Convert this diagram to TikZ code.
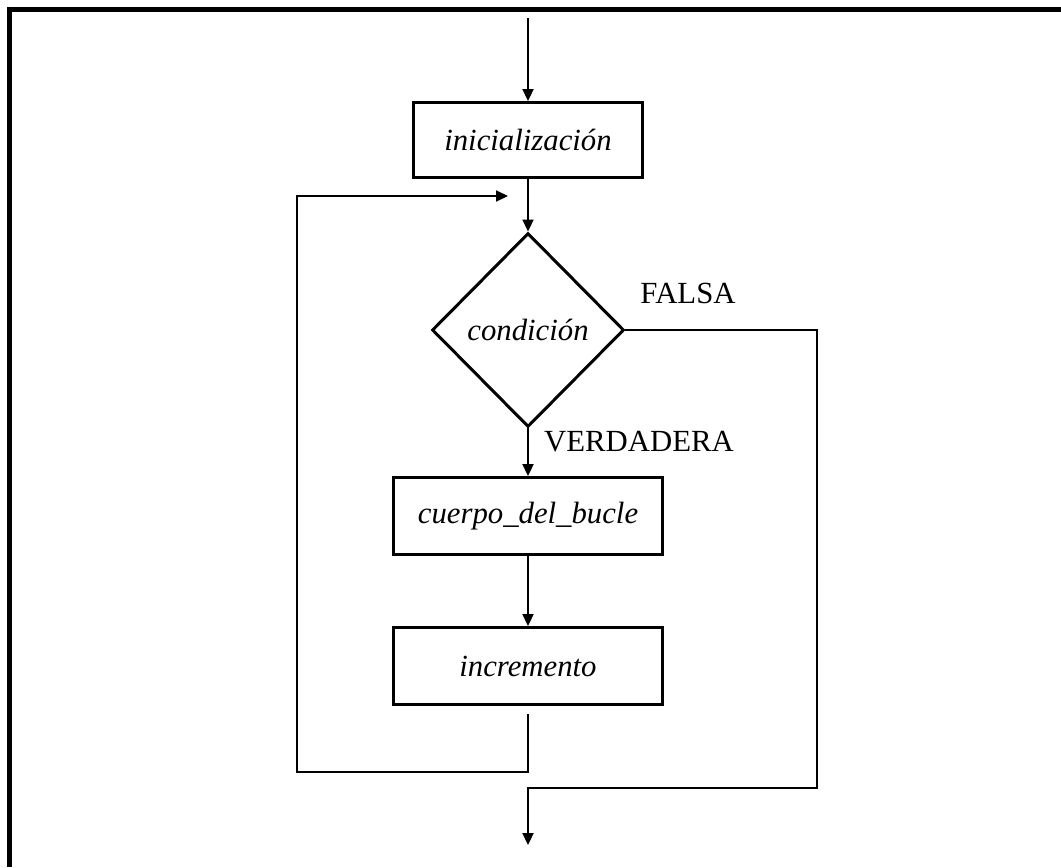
\documentclass[tikz,border=0pt]{standalone}
\usepackage{fontspec}
\setmainfont{Liberation Serif}
\usetikzlibrary{shapes.geometric,arrows.meta}
\tikzset{
  procbox/.style={draw, line width=1.7pt, minimum width=4.6cm, minimum height=1.5cm, inner sep=0pt, font=\fontsize{17.5}{20}\selectfont\itshape},
  condbox/.style={draw, diamond, line width=1.7pt, minimum width=3.84cm, minimum height=3.88cm, inner sep=0pt, font=\fontsize{17.5}{20}\selectfont\itshape},
  flow/.style={line width=1.2pt},
  lbl/.style={font=\fontsize{17.5}{20}\selectfont},
}
\begin{document}
\begin{tikzpicture}[x=0.02cm, y=-0.02cm, >={Triangle[length=0.24cm, width=0.22cm]}]
\useasboundingbox (0,0) rectangle (1061,867);
\draw[line width=2.85pt] (9.5,867) -- (9.5,9.5) -- (1061,9.5);
\coordinate (start) at (528,18);
\node[procbox] (init) at (528,140) {inicialización};
\node[condbox] (cond) at (528,330) {condición};
\node[procbox, minimum width=5.4cm, minimum height=1.54cm] (body) at (528,516) {cuerpo\_del\_bucle};
\node[procbox, minimum width=5.4cm, minimum height=1.54cm] (incr) at (528,666) {incremento};
\coordinate (loopstart) at (528,714);
\coordinate (loopL) at (297,772);
\coordinate (join) at (508,196);
\coordinate (exitR) at (817,788);
\coordinate (fin) at (528,845);
\draw[flow, ->] (start) -- (init);
\draw[flow, ->] (init) -- (cond);
\draw[flow, ->] (cond) -- (body);
\draw[flow, ->] (body) -- (incr);
\draw[flow, ->] (loopstart) |- (loopL) |- (join);
\draw[flow, ->] (cond.east) -| (exitR) -| (fin);
\node[lbl] (falsa) at (688,293) {FALSA};
\node[lbl] (verd) at (639,442) {VERDADERA};
\end{tikzpicture}
\end{document}
